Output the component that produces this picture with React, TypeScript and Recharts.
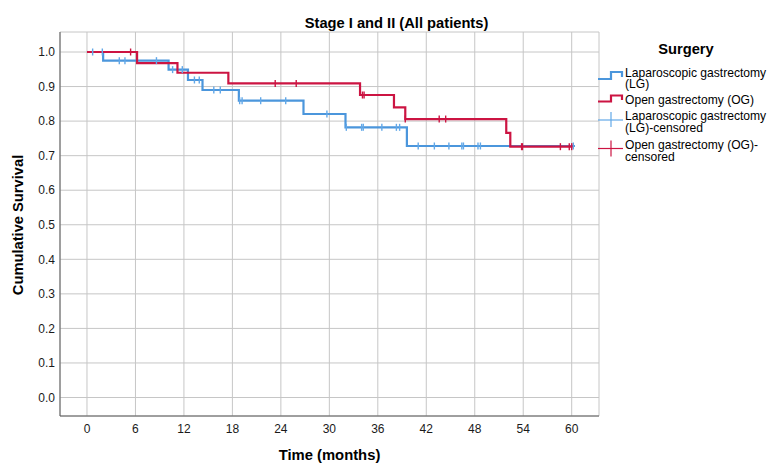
import React from "react";
import { ComposedChart, Line, Scatter, XAxis, YAxis, CartesianGrid } from "recharts";

// Kaplan-Meier step points (time in months, cumulative survival)
const lgTimes = [0, 2.0, 10.1, 12.5, 14.3, 18.8, 26.8, 32.0, 39.6, 60.4];
const lgSurv = [1.0, 0.975, 0.949, 0.919, 0.89, 0.859, 0.8205, 0.782, 0.728, 0.728];
const ogTimes = [0, 6.2, 11.2, 17.5, 33.8, 38.0, 39.4, 51.9, 52.4, 60.1];
const ogSurv = [1.0, 0.968, 0.94, 0.909, 0.8755, 0.84, 0.806, 0.766, 0.726, 0.726];

// censored observations
const lgCensTimes = [0.7, 1.9, 4.0, 4.7, 8.6, 10.6, 11.8, 13.3, 13.9, 15.7, 16.5, 18.9, 19.2, 21.5, 24.6, 29.7, 32.1, 34.0, 34.2, 36.5, 38.3, 38.7, 41.0, 43.0, 44.8, 46.4, 46.6, 48.4, 48.7, 60.2];
const lgCensSurv = [1.0, 1.0, 0.975, 0.975, 0.975, 0.949, 0.949, 0.919, 0.919, 0.89, 0.89, 0.859, 0.859, 0.859, 0.859, 0.8205, 0.782, 0.782, 0.782, 0.782, 0.782, 0.782, 0.728, 0.728, 0.728, 0.728, 0.728, 0.728, 0.728, 0.728];
const ogCensTimes = [5.4, 23.3, 25.9, 34.1, 34.3, 39.4, 43.6, 44.4, 53.8, 53.9, 58.6, 59.7, 60.0];
const ogCensSurv = [1.0, 0.909, 0.909, 0.8755, 0.8755, 0.806, 0.806, 0.806, 0.726, 0.726, 0.726, 0.726, 0.726];

const xTicks = [0, 6, 12, 18, 24, 30, 36, 42, 48, 54, 60];
const yTicks = [0, 0.1, 0.2, 0.3, 0.4, 0.5, 0.6, 0.7, 0.8, 0.9, 1.0];

const title = "Stage I and II (All patients)";
const xLabel = "Time (months)";
const yLabel = "Cumulative Survival";
const legendTitle = "Surgery";

const BLUE = "#4b96dc";
const BLUE_LIGHT = "#62a8e8";
const RED = "#cc1442";
const FONT = "'Liberation Sans', Arial, sans-serif";

const zip = (ts: number[], ss: number[]) => ts.map((t, i) => ({ t, s: ss[i] }));
const lgLine = zip(lgTimes, lgSurv);
const ogLine = zip(ogTimes, ogSurv);
const lgCens = zip(lgCensTimes, lgCensSurv);
const ogCens = zip(ogCensTimes, ogCensSurv);

const makeTick = (color: string) => (props: any) => {
  const { cx, cy } = props;
  if (cx == null || cy == null) return <g />;
  return <line x1={cx} x2={cx} y1={cy - 3.5} y2={cy + 3.5} stroke={color} strokeWidth={1.4} />;
};

export default function App() {
  return (
    <div style={{ position: "absolute", left: 0, top: 0, width: 771, height: 465, background: "#fff" }}>
      <ComposedChart width={771} height={465} margin={{ top: 32, right: 172, bottom: 0, left: 0 }}>
        <CartesianGrid stroke="#c6c6c6" strokeWidth={1} />
        <XAxis
          type="number"
          dataKey="t"
          domain={[-3.34, 63.38]}
          ticks={xTicks}
          allowDataOverflow
          height={49}
          axisLine={{ stroke: "#5a5a5a" }}
          tickLine={false}
          tick={{ fontSize: 12, fill: "#1a1a1a", fontFamily: FONT }}
        />
        <YAxis
          type="number"
          domain={[-0.0535, 1.0579]}
          ticks={yTicks}
          allowDataOverflow
          width={60}
          axisLine={{ stroke: "#5a5a5a" }}
          tickLine={false}
          tickSize={3}
          tickMargin={2}
          tickFormatter={(v: number) => v.toFixed(1)}
          tick={{ fontSize: 12, fill: "#1a1a1a", fontFamily: FONT }}
        />
        <Line data={lgLine} dataKey="s" type="stepAfter" stroke={BLUE} strokeWidth={2.2} dot={false} activeDot={false} isAnimationActive={false} />
        <Line data={ogLine} dataKey="s" type="stepAfter" stroke={RED} strokeWidth={2.2} dot={false} activeDot={false} isAnimationActive={false} />
        <Scatter data={lgCens} dataKey="s" shape={makeTick(BLUE_LIGHT)} isAnimationActive={false} />
        <Scatter data={ogCens} dataKey="s" shape={makeTick(RED)} isAnimationActive={false} />
      </ComposedChart>
      <svg width={771} height={465} style={{ position: "absolute", left: 0, top: 0, pointerEvents: "none" }} fontFamily={FONT}>
        <text x={396.5} y={28} textAnchor="middle" fontSize={14.7} fontWeight="bold" fill="#000">{title}</text>
        <text x={329.5} y={459.5} textAnchor="middle" fontSize={14.8} fontWeight="bold" fill="#000">{xLabel}</text>
        <text x={18.3} y={225} textAnchor="middle" dominantBaseline="central" fontSize={14.7} fontWeight="bold" fill="#000" transform="rotate(-90 18.3 225)">{yLabel}</text>
        <text x={686} y={54} textAnchor="middle" fontSize={14.7} fontWeight="bold" fill="#000">{legendTitle}</text>
        <polyline points="598,79 611,79 611,72 622,72 622,77" fill="none" stroke={BLUE} strokeWidth={2.2} />
        <text x={625} y={76.7} fontSize={12.1} fill="#000">Laparoscopic gastrectomy</text>
        <text x={625} y={88.3} fontSize={12.1} fill="#000">(LG)</text>
        <polyline points="598,101.5 611,101.5 611,95.5 622,95.5 622,100" fill="none" stroke={RED} strokeWidth={2.2} />
        <text x={625} y={104} fontSize={12.1} fill="#000">Open gastrectomy (OG)</text>
        <line x1={598} x2={623} y1={120} y2={120} stroke={BLUE_LIGHT} strokeWidth={1.2} />
        <line x1={611} x2={611} y1={112} y2={127} stroke={BLUE_LIGHT} strokeWidth={1.2} />
        <text x={625} y={120} fontSize={12.1} fill="#000">Laparoscopic gastrectomy</text>
        <text x={625} y={131.7} fontSize={12.1} fill="#000">(LG)-censored</text>
        <line x1={598} x2={623} y1={148.5} y2={148.5} stroke={RED} strokeWidth={1.2} />
        <line x1={611} x2={611} y1={140.5} y2={156.5} stroke={RED} strokeWidth={1.2} />
        <text x={625} y={149} fontSize={12.1} fill="#000">Open gastrectomy (OG)-</text>
        <text x={625} y={160.7} fontSize={12.1} fill="#000">censored</text>
      </svg>
    </div>
  );
}
